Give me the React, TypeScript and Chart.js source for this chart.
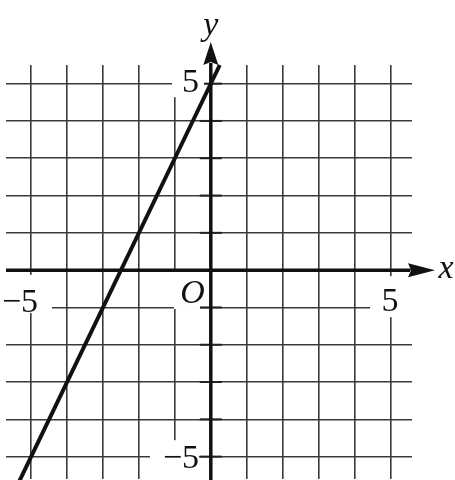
import { useEffect, useRef } from 'react'
import { Chart, registerables } from 'chart.js'

Chart.register(...registerables)

// the graphed line, y = 2x + 5, end points
const lineX = [-5.33, 0.25]
const lineY = [-5.66, 5.5]

// grid lines at every integer
const gridX = [-5, -4, -3, -2, -1, 0, 1, 2, 3, 4, 5]
const gridY = [-5, -4, -3, -2, -1, 0, 1, 2, 3, 4, 5]

// text on the plot, anchored at (x, y) in data units (centre, baseline)
const labelText = ['y', 'x', '5', '\u22125', 'O', '5', '\u22125']
const labelX = [0, 6.55, -0.565, -5.31, -0.51, 4.99, -0.83]
const labelY = [6.3, -0.21, 4.77, -1.12, -0.88, -1.1, -5.31]
const labelItalic = [true, true, false, false, true, false, false]

// white patches that knock the grid out behind a label: [left, top, right, bottom] px from anchor
const labelBoxes: (number[] | null)[] = [
  null,
  null,
  [-18.5, -28, 13.5, 5],
  [-20, -37, 32, 1],
  [-18.5, -31, 7.5, 6],
  [-20, -35, 24, 6],
  [-31, -28, 18, 12],
]

const FONT = "'Liberation Serif', 'DejaVu Serif', serif"
const INK = '#111'

const axesPlugin = {
  id: 'axesArrows',
  beforeDatasetsDraw(chart: any) {
    const { ctx } = chart
    const xs = chart.scales.x
    const ys = chart.scales.y
    const x0 = xs.getPixelForValue(0)
    const y0 = ys.getPixelForValue(0)
    ctx.save()

    // short tick marks across the y axis
    ctx.strokeStyle = '#222'
    ctx.lineWidth = 2
    gridY.forEach((v) => {
      if (v === 0) return
      const py = ys.getPixelForValue(v)
      ctx.beginPath()
      ctx.moveTo(x0 - 11, py)
      ctx.lineTo(x0 + 11, py)
      ctx.stroke()
    })

    // label backgrounds
    ctx.fillStyle = '#fff'
    labelBoxes.forEach((b, i) => {
      if (!b) return
      const px = xs.getPixelForValue(labelX[i])
      const py = ys.getPixelForValue(labelY[i])
      ctx.fillRect(px + b[0], py + b[1], b[2] - b[0], b[3] - b[1])
    })

    // axes
    ctx.strokeStyle = INK
    ctx.fillStyle = INK
    ctx.lineWidth = 3.5
    const xBase = xs.getPixelForValue(5.49)
    const xTip = xs.getPixelForValue(6.24)
    ctx.beginPath()
    ctx.moveTo(xs.left, y0)
    ctx.lineTo(xBase + 2, y0)
    ctx.stroke()
    ctx.beginPath()
    ctx.moveTo(xTip, y0)
    ctx.lineTo(xBase, y0 - 7)
    ctx.lineTo(xBase + 3, y0)
    ctx.lineTo(xBase, y0 + 7)
    ctx.closePath()
    ctx.fill()

    const yBase = ys.getPixelForValue(5.5)
    const yTip = ys.getPixelForValue(6.12)
    ctx.beginPath()
    ctx.moveTo(x0, chart.height)
    ctx.lineTo(x0, yBase - 2)
    ctx.stroke()
    ctx.beginPath()
    ctx.moveTo(x0, yTip)
    ctx.lineTo(x0 - 7.5, yBase)
    ctx.lineTo(x0, yBase - 3)
    ctx.lineTo(x0 + 7.5, yBase)
    ctx.closePath()
    ctx.fill()
    ctx.restore()
  },
  afterDatasetsDraw(chart: any) {
    const { ctx } = chart
    const xs = chart.scales.x
    const ys = chart.scales.y
    ctx.save()
    ctx.fillStyle = INK
    ctx.textAlign = 'center'
    ctx.textBaseline = 'alphabetic'
    labelText.forEach((t, i) => {
      ctx.font = `${labelItalic[i] ? 'italic ' : ''}34px ${FONT}`
      ctx.fillText(t, xs.getPixelForValue(labelX[i]), ys.getPixelForValue(labelY[i]))
    })
    ctx.restore()
  },
}

export default function App() {
  const ref = useRef<HTMLCanvasElement | null>(null)

  useEffect(() => {
    document.body.style.margin = '0'
    if (!ref.current) return
    const ctx = ref.current.getContext('2d')
    if (!ctx) return
    const gridOpts = { color: '#3a3a3a', lineWidth: 1.6, drawTicks: false }
    const chart = new Chart(ctx, {
      type: 'scatter',
      data: {
        datasets: [
          {
            data: lineX.map((x, i) => ({ x, y: lineY[i] })),
            showLine: true,
            borderColor: INK,
            borderWidth: 4,
            pointRadius: 0,
            clip: false,
          },
        ],
      },
      options: {
        responsive: false,
        animation: false,
        layout: { padding: { left: 6, right: 43, top: 65, bottom: 1 } },
        plugins: { legend: { display: false }, tooltip: { enabled: false } },
        scales: {
          x: {
            type: 'linear',
            min: -5.7,
            max: 5.6,
            afterBuildTicks: (s: any) => {
              s.ticks = gridX.map((value) => ({ value }))
            },
            ticks: { display: false },
            border: { display: false },
            grid: gridOpts,
          },
          y: {
            type: 'linear',
            min: -5.6,
            max: 5.5,
            afterBuildTicks: (s: any) => {
              s.ticks = gridY.map((value) => ({ value }))
            },
            ticks: { display: false },
            border: { display: false },
            grid: gridOpts,
          },
        },
      },
      plugins: [axesPlugin],
    })
    return () => chart.destroy()
  }, [])

  return <canvas ref={ref} width={455} height={480} style={{ display: 'block' }} />
}
